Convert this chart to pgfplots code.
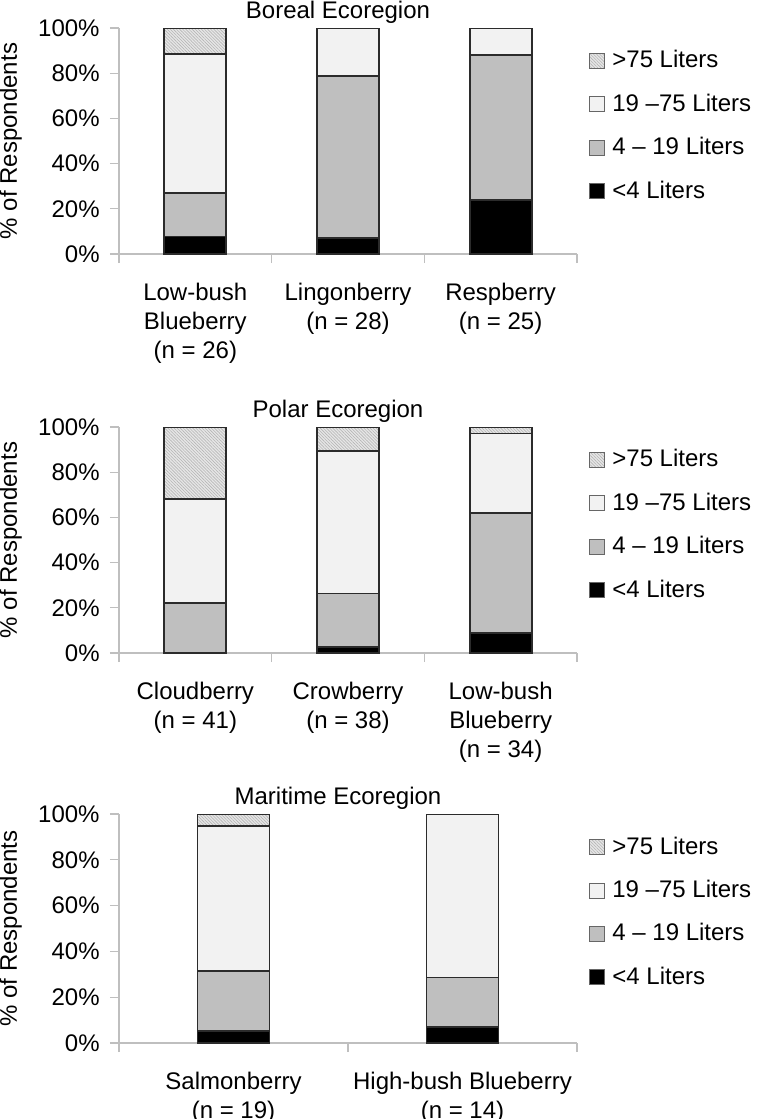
\documentclass[border=0pt]{standalone}
\usepackage{fontspec}
\setmainfont{Liberation Sans}
\usepackage{pgfplots}
\pgfplotsset{compat=1.18}
\usetikzlibrary{patterns.meta}

\definecolor{barline}{HTML}{2B2B2B}
\definecolor{axgray}{HTML}{BFBFBF}
\definecolor{midgray}{HTML}{BFBFBF}
\definecolor{lightfill}{HTML}{F2F2F2}
\definecolor{hatchbg}{HTML}{E6E6E6}
\definecolor{hatchfg}{HTML}{B5B5B5}

\pgfplotsset{
  berry/.style={
    scale only axis,
    width=229pt, height=113pt,
    ybar stacked,
    ymin=0, ymax=100,
    ytick={0,20,...,100},
    yticklabels={0\%,20\%,40\%,60\%,80\%,100\%},
    xmin=0.5,
    axis x line*=bottom, axis y line*=left,
    axis line style={axgray, line width=0.6pt},
    tick align=outside,
    major tick length=4.5pt,
    minor tick length=4.5pt,
    tick style={axgray, line width=0.6pt},
    every major x tick/.append style={draw=none},
    xticklabel style={align=center, yshift=-6pt},
    yticklabel style={xshift=-1pt},
    ylabel={\% of Respondents},
    title style={yshift=-8pt, xshift=-5pt},
    legend style={at={(1,0.92)}, anchor=north west, xshift=6pt, draw=none, fill=none,
      inner sep=0pt, row sep=7.2pt, cells={anchor=west},
      /tikz/every odd column/.append style={column sep=1.5pt}},
    reverse legend,
    legend image code/.code={\draw[##1, draw=gray!80!black, line width=0.5pt] (0pt,-3.75pt) rectangle (7.5pt,3.75pt);},
    /pgf/number format/assume math mode=true,
  },
  lt4/.style={fill=black, draw=barline, line width=0.9pt},
  l419/.style={fill=midgray, draw=barline, line width=0.9pt},
  l1975/.style={fill=lightfill, draw=barline, line width=0.9pt},
  gt75/.style={fill=hatchbg, draw=barline, line width=0.9pt,
    postaction={pattern={Lines[angle=-45,distance=1.1pt,line width=0.3pt]}, pattern color=hatchfg}},
}

\begin{document}
\fontsize{12}{14.4}\selectfont
\begin{tikzpicture}
% Boreal
\begin{axis}[berry, at={(0pt,0pt)}, xmax=3.5, bar width=31pt,
  xtick={1,2,3}, minor xtick={0.5,1.5,2.5,3.5},
  xticklabels={{Low-bush\\Blueberry\\(n = 26)},{Lingonberry\\(n = 28)},{Respberry\\(n = 25)}},
  title={Boreal Ecoregion}]
\addplot[lt4] coordinates {(1,7.7) (2,7.1) (3,24.0)};
\addlegendentry{<4 Liters}
\addplot[l419] coordinates {(1,19.2) (2,71.5) (3,64.0)};
\addlegendentry{4 – 19 Liters}
\addplot[l1975] coordinates {(1,61.6) (2,21.4) (3,12.0)};
\addlegendentry{19 –75 Liters}
\addplot[gt75] coordinates {(1,11.5) (2,0) (3,0)};
\addlegendentry{>75 Liters}
\end{axis}
% Polar
\begin{axis}[berry, at={(0pt,-199.5pt)}, xmax=3.5, bar width=31pt,
  xtick={1,2,3}, minor xtick={0.5,1.5,2.5,3.5},
  xticklabels={{Cloudberry\\(n = 41)},{Crowberry\\(n = 38)},{Low-bush\\Blueberry\\(n = 34)}},
  title={Polar Ecoregion}]
\addplot[lt4] coordinates {(1,0) (2,2.6) (3,8.8)};
\addlegendentry{<4 Liters}
\addplot[l419] coordinates {(1,22.0) (2,23.7) (3,53.0)};
\addlegendentry{4 – 19 Liters}
\addplot[l1975] coordinates {(1,46.3) (2,63.2) (3,35.3)};
\addlegendentry{19 –75 Liters}
\addplot[gt75] coordinates {(1,31.7) (2,10.5) (3,2.9)};
\addlegendentry{>75 Liters}
\end{axis}
% Maritime
\begin{axis}[berry, at={(0pt,-394.5pt)}, height=114.5pt, xmax=2.5, bar width=36pt,
  xtick={1,2}, minor xtick={0.5,1.5,2.5},
  xticklabels={{Salmonberry\\(n = 19)},{High-bush Blueberry\\(n = 14)}},
  title={Maritime Ecoregion}]
\addplot[lt4] coordinates {(1,5.3) (2,7.1)};
\addlegendentry{<4 Liters}
\addplot[l419] coordinates {(1,26.3) (2,21.5)};
\addlegendentry{4 – 19 Liters}
\addplot[l1975] coordinates {(1,63.1) (2,71.4)};
\addlegendentry{19 –75 Liters}
\addplot[gt75] coordinates {(1,5.3) (2,0)};
\addlegendentry{>75 Liters}
\end{axis}
\pgfresetboundingbox
\path (-59.5pt,127pt) rectangle (320.5pt,-432.5pt);
\end{tikzpicture}
\end{document}
